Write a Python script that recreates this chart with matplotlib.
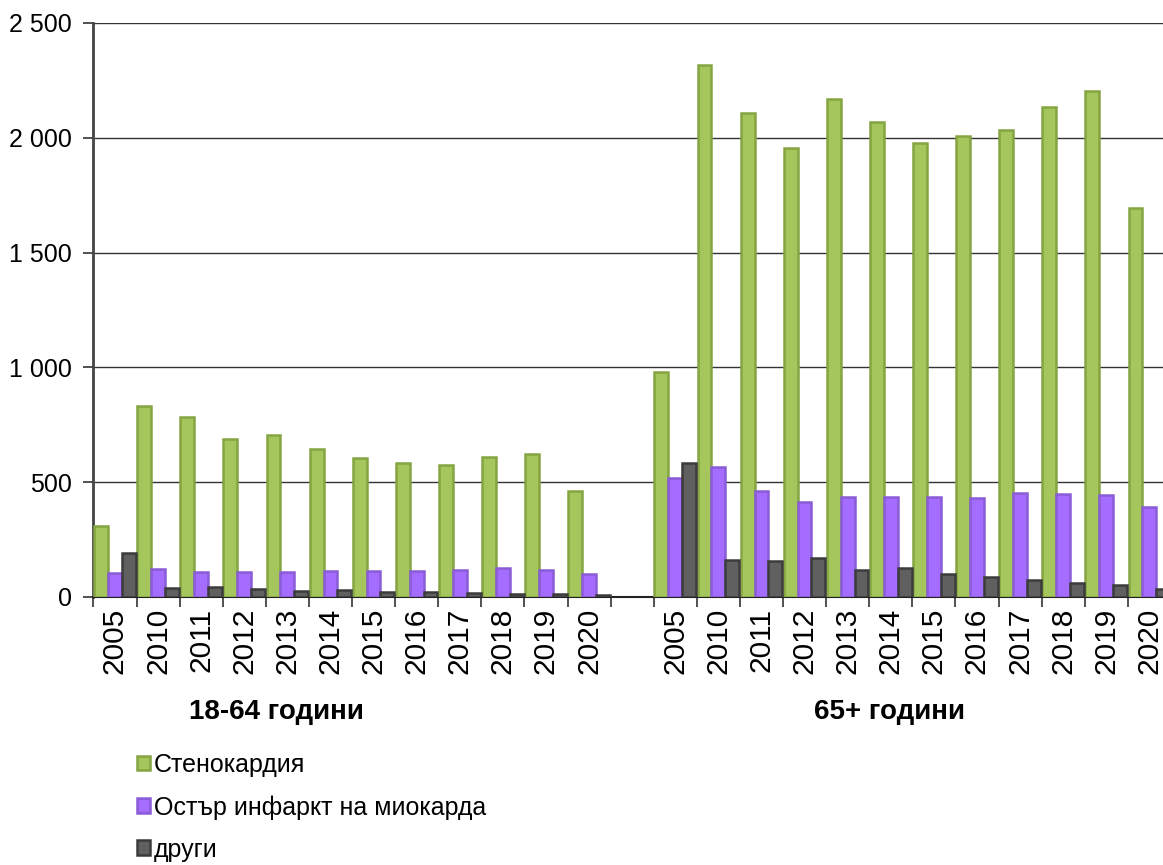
import numpy as np
import matplotlib
matplotlib.use("Agg")
import matplotlib.pyplot as plt
from matplotlib.ticker import FuncFormatter
from matplotlib.patches import Patch

plt.rcParams['font.family'] = ['Liberation Sans', 'DejaVu Sans']

years = ['2005', '2010', '2011', '2012', '2013', '2014', '2015', '2016', '2017', '2018', '2019', '2020']
groups = ['18-64 години', '65+ години']
series_names = ['Стенокардия', 'Остър инфаркт на миокарда', 'други']

# 18-64 години
angina_young = [308, 832, 785, 687, 705, 646, 604, 584, 575, 608, 624, 463]
infarct_young = [106, 123, 109, 107, 108, 115, 113, 115, 117, 125, 119, 100]
other_young = [190, 41, 45, 34, 25, 31, 22, 22, 17, 12, 15, 7]

# 65+ години
angina_old = [982, 2317, 2108, 1954, 2168, 2070, 1976, 2008, 2032, 2135, 2203, 1693]
infarct_old = [520, 566, 463, 415, 434, 434, 436, 431, 452, 447, 444, 390]
other_old = [583, 162, 157, 171, 117, 128, 101, 89, 74, 63, 54, 33]

fills = ['#a5c55d', '#a46cff', '#606060']
edges = ['#84a541', '#8a5cd6', '#3c3c3c']

fig = plt.figure(figsize=(11.63, 8.65), dpi=100)
# axes is wider than the figure: the last bar is cut at the right edge, as in the reference
ax = fig.add_axes([93.4 / 1163, 1 - 597 / 865, 1077.5 / 1163, 574 / 865])

n = len(years)
x_young = np.arange(n)
x_old = np.arange(n) + n + 1
w = 0.322

data = [(angina_young, angina_old), (infarct_young, infarct_old), (other_young, other_old)]
for i, (yv, ov) in enumerate(data):
    off = (i - 1) * w
    ax.bar(x_young + off, yv, width=w, color=fills[i], edgecolor=edges[i], linewidth=1.8, zorder=3)
    ax.bar(x_old + off, ov, width=w, color=fills[i], edgecolor=edges[i], linewidth=1.8, zorder=3)

ax.set_xlim(-0.5, 2 * n + 0.5)
ax.set_ylim(0, 2500)
ax.set_yticks([0, 500, 1000, 1500, 2000, 2500])
ax.yaxis.set_major_formatter(FuncFormatter(lambda v, p: f'{int(v):,}'.replace(',', ' ')))
ax.grid(axis='y', color='#333333', linewidth=1.0, zorder=0)

ax.set_xticks(list(x_young) + list(x_old))
ax.set_xticklabels(years + years, rotation=90)
ax.set_xticks(np.arange(-0.5, 2 * n + 1, 1), minor=True)
ax.tick_params(axis='x', which='major', length=0, pad=8, labelsize=21.5)
ax.tick_params(axis='x', which='minor', length=7, width=1.2, color='#333333', direction='out')
ax.tick_params(axis='y', length=7, width=1.2, color='#333333', pad=8.5, labelsize=18)

for s in ['top', 'right']:
    ax.spines[s].set_visible(False)
ax.spines['left'].set_color('#444444')
ax.spines['left'].set_linewidth(2)
ax.spines['bottom'].set_color('#222222')
ax.spines['bottom'].set_linewidth(1.5)

fig.text(276 / 1163, 1 - 712 / 865, groups[0], ha='center', va='center', fontsize=20, fontweight='bold')
fig.text(890 / 1163, 1 - 712 / 865, groups[1], ha='center', va='center', fontsize=20, fontweight='bold')

handles = [Patch(facecolor=fills[i], edgecolor=edges[i], linewidth=1.8, label=series_names[i]) for i in range(3)]
fig.legend(handles=handles, loc='upper left', bbox_to_anchor=(137 / 1163, 1 - 753 / 865),
           frameon=False, fontsize=18, handlelength=0.52, handleheight=0.52,
           handletextpad=0.15, labelspacing=0.72, borderaxespad=0, borderpad=0)

fig.savefig('out.png', dpi=100)
